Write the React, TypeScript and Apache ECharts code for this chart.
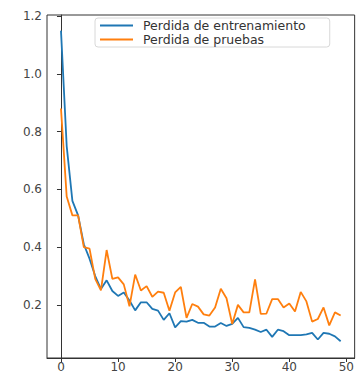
import React, { useEffect, useRef } from "react";
import * as echarts from "echarts";

const epochs: number[] = Array.from({ length: 50 }, (_, i) => i);

const trainLoss: number[] = [
  1.15, 0.75, 0.56, 0.51, 0.41, 0.36, 0.3, 0.255, 0.285, 0.248,
  0.231, 0.243, 0.215, 0.181, 0.209, 0.209, 0.186, 0.18, 0.148, 0.171,
  0.122, 0.144, 0.142, 0.148, 0.138, 0.138, 0.125, 0.125, 0.137, 0.127,
  0.134, 0.155, 0.123, 0.12, 0.114, 0.106, 0.114, 0.089, 0.114, 0.109,
  0.095, 0.095, 0.095, 0.098, 0.103, 0.08, 0.103, 0.1, 0.091, 0.074,
];

const testLoss: number[] = [
  0.88, 0.575, 0.51, 0.51, 0.4, 0.395, 0.29, 0.25, 0.39, 0.29,
  0.295, 0.271, 0.195, 0.305, 0.25, 0.265, 0.228, 0.246, 0.242, 0.18,
  0.243, 0.262, 0.155, 0.203, 0.194, 0.167, 0.163, 0.191, 0.256, 0.223,
  0.134, 0.2, 0.174, 0.174, 0.288, 0.169, 0.17, 0.22, 0.22, 0.191,
  0.205, 0.177, 0.245, 0.212, 0.142, 0.151, 0.191, 0.129, 0.174, 0.163,
];

const xTicks: number[] = [0, 10, 20, 30, 40, 50];
const yTicks: number[] = [0.2, 0.4, 0.6, 0.8, 1.0, 1.2];

const seriesNames: string[] = ["Perdida de entrenamiento", "Perdida de pruebas"];

export default function App() {
  const ref = useRef<HTMLDivElement>(null);

  useEffect(() => {
    document.body.style.margin = "0";
    if (!ref.current) return;
    const chart = echarts.init(ref.current, null, { renderer: "svg" });
    const font = "DejaVu Sans";
    const axisColor = "#333";
    const lineIcon = "path://M0,0 L33,0 L33,2 L0,2 Z";
    chart.setOption({
      animation: false,
      backgroundColor: "#ffffff",
      grid: {
        left: 47,
        top: 15,
        width: 312,
        height: 346,
        show: true,
        borderColor: axisColor,
        borderWidth: 1,
        containLabel: false,
      },
      legend: {
        orient: "vertical",
        left: 95,
        top: 18,
        padding: [1, 24, 1, 5],
        itemGap: 1,
        itemWidth: 33,
        itemHeight: 12,
        symbolKeepAspect: true,
        backgroundColor: "#ffffff",
        borderColor: "#d8d8d8",
        borderWidth: 1,
        borderRadius: 3,
        textStyle: {
          fontFamily: font,
          fontSize: 12.5,
          lineHeight: 12,
          color: "#333",
          padding: [0, 0, 0, 5],
        },
        data: [
          { name: seriesNames[0], icon: lineIcon, itemStyle: { color: "#1f77b4" } },
          { name: seriesNames[1], icon: lineIcon, itemStyle: { color: "#ff7f0e" } },
        ],
      },
      xAxis: {
        type: "value",
        min: -2.45,
        max: 51.45,
        splitLine: { show: false },
        axisLine: { show: true, lineStyle: { color: axisColor, width: 1 } },
        axisTick: {
          show: true,
          length: 4,
          customValues: xTicks,
          lineStyle: { color: axisColor },
        },
        axisLabel: {
          customValues: xTicks,
          fontFamily: font,
          fontSize: 12,
          color: "#444",
          margin: 3,
        },
      },
      yAxis: {
        type: "value",
        min: 0.016,
        max: 1.204,
        splitLine: { show: false },
        axisLine: { show: true, lineStyle: { color: axisColor, width: 1 } },
        axisTick: {
          show: true,
          length: 4,
          customValues: yTicks,
          lineStyle: { color: axisColor },
        },
        axisLabel: {
          customValues: yTicks,
          formatter: (v: number) => v.toFixed(1),
          fontFamily: font,
          fontSize: 12,
          color: "#444",
          margin: 5,
        },
      },
      series: [
        {
          name: seriesNames[0],
          type: "line",
          data: epochs.map((e, i) => [e, trainLoss[i]]),
          symbol: "none",
          lineStyle: { color: "#1f77b4", width: 1.8 },
          itemStyle: { color: "#1f77b4" },
          z: 3,
        },
        {
          name: seriesNames[1],
          type: "line",
          data: epochs.map((e, i) => [e, testLoss[i]]),
          symbol: "none",
          lineStyle: { color: "#ff7f0e", width: 1.8 },
          itemStyle: { color: "#ff7f0e" },
          z: 4,
        },
      ],
    });
    return () => chart.dispose();
  }, []);

  return <div ref={ref} style={{ width: 357, height: 373 }} />;
}
